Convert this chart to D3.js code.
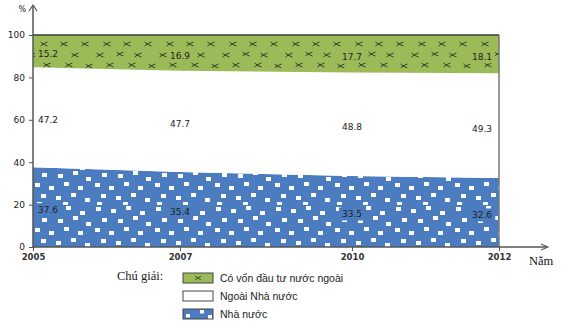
<!DOCTYPE html>
<html><head><meta charset="utf-8">
<script src="https://cdn.jsdelivr.net/npm/d3@7"></script>
<style>
html,body{margin:0;padding:0;background:#fff;}
svg{display:block;}
</style></head>
<body>
<svg id="chart" width="570" height="328"></svg>
<script>
const years = ["2005", "2007", "2010", "2012"];
const stateShare = [37.6, 35.4, 33.5, 32.6];        // Nhà nước
const nonStateShare = [47.2, 47.7, 48.8, 49.3];     // Ngoài Nhà nước
const foreignShare = [15.2, 16.9, 17.7, 18.1];      // Có vốn đầu tư nước ngoài
const yTicks = [0, 20, 40, 60, 80, 100];
const legendLabels = ["Có vốn đầu tư nước ngoài", "Ngoài Nhà nước", "Nhà nước"];

const svg = d3.select("#chart");
const defs = svg.append("defs");
const GREEN = "#9bbb59", BLUE = "#4a7cbf";

// green pattern with small crosses
const pg = defs.append("pattern").attr("id", "pGreen").attr("patternUnits", "userSpaceOnUse")
  .attr("width", 63).attr("height", 33).attr("x", 33).attr("y", 35);
pg.append("rect").attr("width", 63).attr("height", 33).attr("fill", GREEN);
const crosses = [[11,9],[31,9],[52,9],[4,20],[24,19],[42,20],[14,30],[36,30],[56,31]];
crosses.forEach(([cx, cy]) => {
  pg.append("path").attr("d", `M${cx-3.5},${cy-2} Q${cx},${cy+1} ${cx+3.5},${cy+2} M${cx-3.5},${cy+2} Q${cx},${cy-1} ${cx+3.5},${cy-2}`)
    .attr("stroke", "#2f4226").attr("stroke-width", 1).attr("fill", "none");
});

// blue pattern with white squares
const pb = defs.append("pattern").attr("id", "pBlue").attr("patternUnits", "userSpaceOnUse")
  .attr("width", 60).attr("height", 45).attr("x", 33).attr("y", 160);
pb.append("rect").attr("width", 60).attr("height", 45).attr("fill", BLUE);
const sq = [[3,2],[18,4],[33,1],[47,6],[9,13],[25,14],[40,11],[53,17],[2,23],[16,26],[31,22],[45,26],[8,34],[23,36],[38,33],[52,38],[4,42],[30,42]];
sq.forEach(([sx, sy]) => {
  pb.append("rect").attr("x", sx).attr("y", sy).attr("width", 5).attr("height", 4).attr("fill", "#ffffff");
});

const x = d3.scaleLinear().domain([0, 1, 2, 3]).range([33, 180, 352, 499]);
const y = d3.scaleLinear().domain([0, 100]).range([247, 35]);

const rows = years.map((yr, i) => ({i, yr, state: stateShare[i], nonState: nonStateShare[i], foreign: foreignShare[i]}));
const keys = ["state", "nonState", "foreign"];
const stacked = d3.stack().keys(keys)(rows);
const fills = {state: "url(#pBlue)", nonState: "#ffffff", foreign: "url(#pGreen)"};
const plainFills = {state: BLUE, nonState: "#ffffff", foreign: GREEN};

const area = d3.area().x(d => x(d.data.i)).y0(d => y(d[0])).y1(d => y(d[1]));
svg.append("g").selectAll("path").data(stacked).join("path")
  .attr("d", area).attr("fill", d => fills[d.key]);

// frame lines
svg.append("line").attr("x1", x(0)).attr("x2", x(3)).attr("y1", y(100)).attr("y2", y(100))
  .attr("stroke", "#3a3a3a").attr("stroke-width", 1.5);
svg.append("line").attr("x1", x(3)).attr("x2", x(3)).attr("y1", y(100)).attr("y2", y(0))
  .attr("stroke", "#777").attr("stroke-width", 1.5);

// y axis
const yAxis = d3.axisLeft(y).tickValues(yTicks).tickSize(4).tickPadding(4);
const gy = svg.append("g").attr("transform", `translate(${x(0)},0)`).call(yAxis);
gy.select(".domain").remove();
gy.selectAll("line").attr("stroke", "#555");
gy.selectAll("text").attr("font-family", "DejaVu Sans, Verdana, sans-serif").attr("font-size", 9).attr("fill", "#222");
svg.append("line").attr("x1", x(0)).attr("x2", x(0)).attr("y1", y(0) + 1).attr("y2", 6)
  .attr("stroke", "#555").attr("stroke-width", 1.5);
svg.append("path").attr("d", `M${x(0)-4},11 L${x(0)},5 L${x(0)+4},11`).attr("fill", "none").attr("stroke", "#555").attr("stroke-width", 1.2);
svg.append("text").attr("x", 26).attr("y", 12).attr("text-anchor", "end")
  .attr("font-family", "DejaVu Sans, Verdana, sans-serif").attr("font-size", 8).attr("fill", "#222").text("%");

// x axis
const xAxis = d3.axisBottom(x).tickValues([0, 1, 2, 3]).tickFormat(i => years[i]).tickSize(4).tickPadding(3);
const gx = svg.append("g").attr("transform", `translate(0,${y(0)})`).call(xAxis);
gx.select(".domain").remove();
gx.selectAll("line").attr("stroke", "#555");
gx.selectAll("text").attr("font-family", "DejaVu Sans, Verdana, sans-serif").attr("font-size", 8.5).attr("font-weight", "bold").attr("fill", "#333");
svg.append("line").attr("x1", x(0)).attr("x2", 547).attr("y1", y(0)).attr("y2", y(0))
  .attr("stroke", "#555").attr("stroke-width", 1.5);
svg.append("path").attr("d", `M541,${y(0)-3} L548,${y(0)} L541,${y(0)+3}`).attr("fill", "none").attr("stroke", "#555").attr("stroke-width", 1.1);
svg.append("text").attr("x", 529).attr("y", 265)
  .attr("font-family", "Liberation Serif, Times New Roman, serif").attr("font-size", 12.5).attr("fill", "#111").text("Năm");

// value labels (with a plain backing so pattern marks don't cross the numbers)
const labelG = svg.append("g").attr("font-family", "DejaVu Sans, Verdana, sans-serif").attr("font-size", 9).attr("fill", "#222");
stacked.forEach(layer => {
  layer.forEach((d, i) => {
    let xp = x(i), anchor = "middle";
    if (i === 0) { xp = x(i) + 5; anchor = "start"; }
    if (i === years.length - 1) { xp = x(i) - 7; anchor = "end"; }
    const yp = y((d[0] + d[1]) / 2) + 6;
    const t = labelG.append("text").attr("x", xp).attr("y", yp)
      .attr("text-anchor", anchor).text(d3.format(".1f")(d.data[layer.key]));
    const bb = t.node().getBBox();
    labelG.insert("rect", "text").attr("x", bb.x - 3).attr("y", bb.y - 2)
      .attr("width", bb.width + 6).attr("height", bb.height + 3).attr("fill", plainFills[layer.key]);
  });
});

// legend
svg.append("text").attr("x", 117).attr("y", 280)
  .attr("font-family", "Liberation Serif, Times New Roman, serif").attr("font-size", 12.5).attr("fill", "#222").text("Chú giải:");
const legFills = [GREEN, "#ffffff", BLUE];
legendLabels.forEach((lab, k) => {
  const ly = 273 + k * 18;
  svg.append("rect").attr("x", 183).attr("y", ly).attr("width", 30).attr("height", 10)
    .attr("fill", legFills[k]).attr("stroke", "#444").attr("stroke-width", 1);
  if (k === 0) {
    svg.append("path").attr("d", `M195,${ly+3} L201,${ly+7} M195,${ly+7} L201,${ly+3}`).attr("stroke", "#33452a").attr("stroke-width", 0.9);
  }
  if (k === 2) {
    [[186,ly+5],[200,ly+1],[208,ly+6]].forEach(([sx, sy]) => {
      svg.append("rect").attr("x", sx).attr("y", sy).attr("width", 4).attr("height", 3.5).attr("fill", "#fff");
    });
  }
  svg.append("text").attr("x", 220).attr("y", ly + 9)
    .attr("font-family", "Liberation Sans, Arial, sans-serif").attr("font-size", 10.5).attr("fill", "#222").text(lab);
});
</script>
</body></html>
